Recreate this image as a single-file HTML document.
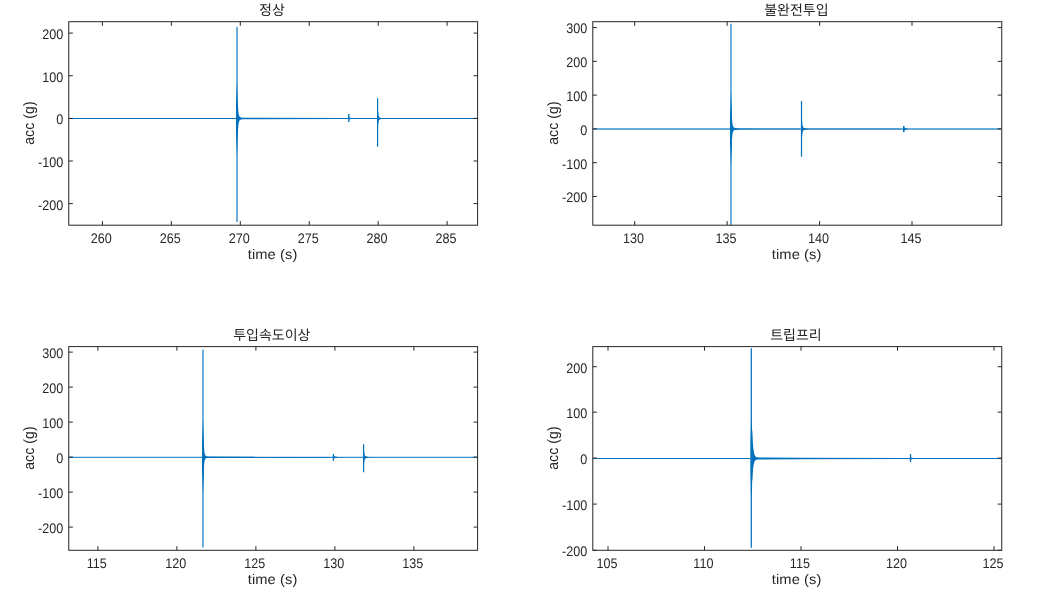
<!DOCTYPE html>
<html><head><meta charset="utf-8"><title>figure</title>
<style>
html,body{margin:0;padding:0;background:#fff;}
body{width:1052px;height:589px;overflow:hidden;font-family:"Liberation Sans",sans-serif;}
svg{display:block;will-change:transform;}
text{font-family:"Liberation Sans",sans-serif;fill:#262626;text-rendering:geometricPrecision;}
.t{font-size:13.33px;letter-spacing:0px;}
.l{font-size:14.67px;letter-spacing:0.1px;}
.k{font-family:"Liberation Sans","Noto Sans CJK KR",sans-serif;font-size:14px;}
</style></head><body>
<svg width="1052" height="589" viewBox="0 0 1052 589">
<rect width="1052" height="589" fill="#fff"/>
<clipPath id="cp1"><rect x="68.75" y="21.7" width="408.85" height="203.5"/></clipPath>
<g clip-path="url(#cp1)" fill="#0072BD"><rect x="68.75" y="118" width="408.85" height="1"/><polygon points="237.5,117.82 345,117.95 345,119.05 237.5,119.18"/><polygon points="236.43,26.8 236.43,80.5 236,105.5 236,131.5 236.43,156.5 236.43,222.1 237.57,222.1 237.57,156.5 238,131.5 238,105.5 237.57,80.5 237.57,26.8"/><polygon points="237,105.6 238,105.6 238.1,107.58 238.2,109.21 238.3,110.54 238.4,111.64 238.5,112.55 238.6,113.29 238.7,113.92 238.8,114.43 238.9,114.86 239,115.23 239.1,115.53 239.2,115.79 239.3,116.01 239.4,116.2 239.5,116.36 239.6,116.51 239.7,116.63 239.8,116.74 239.9,116.84 240,116.93 240.1,117 240.2,117.08 240.3,117.14 240.4,117.2 240.5,117.26 240.6,117.31 240.7,117.36 240.8,117.4 240.9,117.45 241,117.49 241.5,117.66 242,117.8 242.5,117.92 243,118.01 243.5,118.09 244,118.16 244.5,118.22 244.5,118.78 244,118.84 243.5,118.91 243,118.99 242.5,119.08 242,119.2 241.5,119.34 241,119.51 240.9,119.55 240.8,119.6 240.7,119.64 240.6,119.69 240.5,119.74 240.4,119.8 240.3,119.86 240.2,119.92 240.1,120 240,120.07 239.9,120.16 239.8,120.26 239.7,120.37 239.6,120.49 239.5,120.64 239.4,120.8 239.3,120.99 239.2,121.21 239.1,121.47 239,121.77 238.9,122.14 238.8,122.57 238.7,123.08 238.6,123.71 238.5,124.45 238.4,125.36 238.3,126.46 238.2,127.79 238.1,129.42 238,131.4 237,131.4"/><polygon points="348.1,113.9 348.1,122.1 349.5,122.1 349.5,113.9"/><polygon points="348.8,117.3 349.5,117.3 349.6,117.35 349.7,117.4 349.8,117.45 349.9,117.5 350,117.54 350.1,117.59 350.2,117.63 350.3,117.67 350.4,117.7 350.5,117.74 350.6,117.77 350.7,117.8 350.8,117.84 350.9,117.86 351,117.89 351.1,117.92 351.2,117.95 351.3,117.97 351.4,117.99 351.5,118.02 351.6,118.04 351.7,118.06 351.8,118.08 351.9,118.1 352,118.11 352.1,118.13 352.2,118.15 352.3,118.16 352.4,118.18 352.5,118.19 353,118.26 353,118.69 352.5,118.74 352.4,118.75 352.3,118.76 352.2,118.78 352.1,118.79 352,118.8 351.9,118.82 351.8,118.83 351.7,118.85 351.6,118.86 351.5,118.88 351.4,118.9 351.3,118.91 351.2,118.93 351.1,118.95 351,118.97 350.9,119 350.8,119.02 350.7,119.04 350.6,119.07 350.5,119.1 350.4,119.12 350.3,119.15 350.2,119.18 350.1,119.21 350,119.25 349.9,119.28 349.8,119.32 349.7,119.36 349.6,119.4 349.5,119.44 348.8,119.44"/><polygon points="377,98.3 377,105.5 377,131.5 377,146.8 378.2,146.8 378.2,131.5 378.2,105.5 378.2,98.3"/><polygon points="377.6,111.8 378.2,111.8 378.3,112.97 378.4,113.89 378.5,114.62 378.6,115.2 378.7,115.66 378.8,116.03 378.9,116.33 379,116.57 379.1,116.77 379.2,116.93 379.3,117.07 379.4,117.18 379.5,117.28 379.6,117.36 379.7,117.43 379.8,117.49 379.9,117.54 380,117.59 380.1,117.64 380.2,117.68 380.3,117.72 380.4,117.75 380.5,117.78 380.6,117.81 380.7,117.84 380.8,117.87 380.9,117.89 381,117.92 381.1,117.94 381.2,117.96 381.7,118.06 382.2,118.13 382.7,118.2 383.2,118.25 383.2,118.75 382.7,118.8 382.2,118.87 381.7,118.94 381.2,119.04 381.1,119.06 381,119.08 380.9,119.11 380.8,119.13 380.7,119.16 380.6,119.19 380.5,119.22 380.4,119.25 380.3,119.28 380.2,119.32 380.1,119.36 380,119.41 379.9,119.46 379.8,119.51 379.7,119.57 379.6,119.64 379.5,119.72 379.4,119.82 379.3,119.93 379.2,120.07 379.1,120.23 379,120.43 378.9,120.67 378.8,120.97 378.7,121.34 378.6,121.8 378.5,122.38 378.4,123.11 378.3,124.03 378.2,125.2 377.6,125.2"/></g>
<rect x="68.75" y="21.7" width="408.85" height="203.5" fill="none" stroke="#262626" stroke-width="1"/>
<path d="M102.4 225.2V221.1M102.4 21.7V25.8M171.35 225.2V221.1M171.35 21.7V25.8M240.3 225.2V221.1M240.3 21.7V25.8M309.25 225.2V221.1M309.25 21.7V25.8M378.2 225.2V221.1M378.2 21.7V25.8M447.1 225.2V221.1M447.1 21.7V25.8M68.75 33.1H72.85M477.6 33.1H473.5M68.75 75.75H72.85M477.6 75.75H473.5M68.75 118.4H72.85M477.6 118.4H473.5M68.75 161H72.85M477.6 161H473.5M68.75 203.6H72.85M477.6 203.6H473.5" stroke="#262626" stroke-width="1" fill="none"/>
<g fill="#262626">
<text class="t" transform="translate(101.3 243.1) scale(0.945 1.05)" text-anchor="middle">260</text>
<text class="t" transform="translate(170.3 243.1) scale(0.945 1.05)" text-anchor="middle">265</text>
<text class="t" transform="translate(239.2 243.1) scale(0.945 1.05)" text-anchor="middle">270</text>
<text class="t" transform="translate(308.2 243.1) scale(0.945 1.05)" text-anchor="middle">275</text>
<text class="t" transform="translate(377.1 243.1) scale(0.945 1.05)" text-anchor="middle">280</text>
<text class="t" transform="translate(446 243.1) scale(0.945 1.05)" text-anchor="middle">285</text>
<text class="t" transform="translate(63.2 39) scale(0.945 1.05)" text-anchor="end">200</text>
<text class="t" transform="translate(63.2 81.65) scale(0.945 1.05)" text-anchor="end">100</text>
<text class="t" transform="translate(63.2 124.3) scale(0.945 1.05)" text-anchor="end">0</text>
<text class="t" transform="translate(63.2 166.9) scale(0.945 1.05)" text-anchor="end">-100</text>
<text class="t" transform="translate(63.2 209.5) scale(0.945 1.05)" text-anchor="end">-200</text>
</g>
<text class="l" transform="translate(272.57 258.6) scale(1.0 0.95)" text-anchor="middle">time (s)</text>
<text class="l" transform="translate(33.6 123.05) rotate(-90) scale(0.955 1.02)" text-anchor="middle">acc (g)</text>
<text class="k" x="272" y="14.8" text-anchor="middle">정상</text>
<clipPath id="cp2"><rect x="592.8" y="21.7" width="408.95" height="203.5"/></clipPath>
<g clip-path="url(#cp2)" fill="#0072BD"><rect x="592.8" y="128.42" width="408.95" height="1.16"/><polygon points="731.5,128.6 800,128.7 800,129.3 731.5,129.4"/><polygon points="802,128.7 900,128.8 900,129.2 802,129.3"/><polygon points="730.44,23.8 730.44,91 730,116 730,142 730.44,167 730.44,230 731.56,230 731.56,167 732,142 732,116 731.56,91 731.56,23.8"/><polygon points="731,117.3 732,117.3 732.1,119.09 732.2,120.55 732.3,121.76 732.4,122.75 732.5,123.57 732.6,124.24 732.7,124.8 732.8,125.27 732.9,125.66 733,125.99 733.1,126.27 733.2,126.5 733.3,126.7 733.4,126.88 733.5,127.02 733.6,127.15 733.7,127.27 733.8,127.37 733.9,127.46 734,127.54 734.1,127.61 734.2,127.68 734.3,127.74 734.4,127.79 734.5,127.85 734.6,127.89 734.7,127.94 734.8,127.98 734.9,128.02 735,128.06 735.5,128.22 736,128.35 736.5,128.46 737,128.55 737.5,128.62 738,128.68 738.5,128.74 738.5,129.25 738,129.3 737.5,129.36 737,129.43 736.5,129.52 736,129.62 735.5,129.75 735,129.9 734.9,129.94 734.8,129.98 734.7,130.02 734.6,130.06 734.5,130.11 734.4,130.16 734.3,130.21 734.2,130.27 734.1,130.33 734,130.4 733.9,130.48 733.8,130.57 733.7,130.66 733.6,130.77 733.5,130.9 733.4,131.04 733.3,131.21 733.2,131.4 733.1,131.62 733,131.89 732.9,132.2 732.8,132.58 732.7,133.03 732.6,133.57 732.5,134.22 732.4,135 732.3,135.95 732.2,137.11 732.1,138.52 732,140.23 731,140.23"/><polygon points="800.9,100.9 800.9,116 800.9,142 800.9,156.8 802.1,156.8 802.1,142 802.1,116 802.1,100.9"/><polygon points="801.5,121.1 802.1,121.1 802.2,122.36 802.3,123.38 802.4,124.21 802.5,124.89 802.6,125.44 802.7,125.88 802.8,126.25 802.9,126.56 803,126.81 803.1,127.02 803.2,127.2 803.3,127.35 803.4,127.47 803.5,127.58 803.6,127.67 803.7,127.76 803.8,127.83 803.9,127.89 804,127.95 804.1,128 804.2,128.05 804.3,128.09 804.4,128.13 804.5,128.16 804.6,128.2 804.7,128.23 804.8,128.26 804.9,128.29 805,128.32 805.1,128.34 805.6,128.45 806.1,128.54 806.6,128.62 807.1,128.68 807.6,128.73 807.6,129.26 807.1,129.32 806.6,129.38 806.1,129.45 805.6,129.54 805.1,129.65 805,129.68 804.9,129.7 804.8,129.73 804.7,129.76 804.6,129.79 804.5,129.83 804.4,129.86 804.3,129.9 804.2,129.94 804.1,129.99 804,130.04 803.9,130.1 803.8,130.16 803.7,130.23 803.6,130.31 803.5,130.4 803.4,130.51 803.3,130.64 803.2,130.78 803.1,130.96 803,131.17 802.9,131.42 802.8,131.72 802.7,132.08 802.6,132.53 802.5,133.07 802.4,133.74 802.3,134.56 802.2,135.57 802.1,136.82 801.5,136.82"/><polygon points="903,126 903,131.9 904.6,131.9 904.6,126"/><polygon points="903.8,127.8 904.6,127.8 904.7,127.85 904.8,127.9 904.9,127.95 905,128 905.1,128.04 905.2,128.09 905.3,128.13 905.4,128.17 905.5,128.2 905.6,128.24 905.7,128.27 905.8,128.3 905.9,128.34 906,128.36 906.1,128.39 906.2,128.42 906.3,128.45 906.4,128.47 906.5,128.49 906.6,128.52 906.7,128.54 906.8,128.56 906.9,128.58 907,128.6 907.1,128.61 907.2,128.63 907.3,128.65 907.4,128.66 907.5,128.68 907.6,128.69 908.1,128.76 908.1,129.24 907.6,129.3 907.5,129.31 907.4,129.32 907.3,129.34 907.2,129.36 907.1,129.37 907,129.39 906.9,129.41 906.8,129.43 906.7,129.45 906.6,129.47 906.5,129.49 906.4,129.51 906.3,129.54 906.2,129.56 906.1,129.59 906,129.61 905.9,129.64 905.8,129.67 905.7,129.7 905.6,129.74 905.5,129.77 905.4,129.81 905.3,129.84 905.2,129.88 905.1,129.92 905,129.97 904.9,130.01 904.8,130.06 904.7,130.11 904.6,130.16 903.8,130.16"/></g>
<rect x="592.8" y="21.7" width="408.95" height="203.5" fill="none" stroke="#262626" stroke-width="1"/>
<path d="M634.7 225.2V221.1M634.7 21.7V25.8M727.15 225.2V221.1M727.15 21.7V25.8M819.6 225.2V221.1M819.6 21.7V25.8M912 225.2V221.1M912 21.7V25.8M592.8 27.6H596.9M1001.75 27.6H997.65M592.8 61.35H596.9M1001.75 61.35H997.65M592.8 95.1H596.9M1001.75 95.1H997.65M592.8 128.9H596.9M1001.75 128.9H997.65M592.8 162.7H596.9M1001.75 162.7H997.65M592.8 196.45H596.9M1001.75 196.45H997.65" stroke="#262626" stroke-width="1" fill="none"/>
<g fill="#262626">
<text class="t" transform="translate(633.6 243.1) scale(0.945 1.05)" text-anchor="middle">130</text>
<text class="t" transform="translate(726.1 243.1) scale(0.945 1.05)" text-anchor="middle">135</text>
<text class="t" transform="translate(818.5 243.1) scale(0.945 1.05)" text-anchor="middle">140</text>
<text class="t" transform="translate(910.9 243.1) scale(0.945 1.05)" text-anchor="middle">145</text>
<text class="t" transform="translate(587.2 32.8) scale(0.945 1.05)" text-anchor="end">300</text>
<text class="t" transform="translate(587.2 67.25) scale(0.945 1.05)" text-anchor="end">200</text>
<text class="t" transform="translate(587.2 101) scale(0.945 1.05)" text-anchor="end">100</text>
<text class="t" transform="translate(587.2 134.8) scale(0.945 1.05)" text-anchor="end">0</text>
<text class="t" transform="translate(587.2 168.6) scale(0.945 1.05)" text-anchor="end">-100</text>
<text class="t" transform="translate(587.2 202.35) scale(0.945 1.05)" text-anchor="end">-200</text>
</g>
<text class="l" transform="translate(796.67 258.6) scale(1.0 0.95)" text-anchor="middle">time (s)</text>
<text class="l" transform="translate(557.65 123.05) rotate(-90) scale(0.955 1.02)" text-anchor="middle">acc (g)</text>
<text class="k" x="796.4" y="14.8" text-anchor="middle">불완전투입</text>
<clipPath id="cp3"><rect x="68.75" y="346.6" width="408.85" height="203.7"/></clipPath>
<g clip-path="url(#cp3)" fill="#0072BD"><rect x="68.75" y="456.8" width="408.85" height="1"/><polygon points="203.5,456.62 330,456.75 330,457.85 203.5,457.98"/><polygon points="202.43,349.5 202.43,419.3 202,444.3 202,470.3 202.43,495.3 202.43,547.6 203.57,547.6 203.57,495.3 204,470.3 204,444.3 203.57,419.3 203.57,349.5"/><polygon points="203,445.8 204,445.8 204.1,447.59 204.2,449.06 204.3,450.27 204.4,451.26 204.5,452.08 204.6,452.75 204.7,453.32 204.8,453.78 204.9,454.18 205,454.5 205.1,454.78 205.2,455.01 205.3,455.21 205.4,455.38 205.5,455.53 205.6,455.66 205.7,455.77 205.8,455.87 205.9,455.96 206,456.04 206.1,456.11 206.2,456.17 206.3,456.23 206.4,456.28 206.5,456.33 206.6,456.38 206.7,456.42 206.8,456.46 206.9,456.49 207,456.53 207.5,456.68 208,456.79 208.5,456.89 209,456.96 209.5,457.02 209.5,457.53 209,457.58 208.5,457.65 208,457.72 207.5,457.82 207,457.95 206.9,457.97 206.8,458.01 206.7,458.04 206.6,458.07 206.5,458.11 206.4,458.15 206.3,458.2 206.2,458.25 206.1,458.3 206,458.36 205.9,458.42 205.8,458.5 205.7,458.58 205.6,458.67 205.5,458.78 205.4,458.9 205.3,459.05 205.2,459.21 205.1,459.41 205,459.64 204.9,459.92 204.8,460.24 204.7,460.64 204.6,461.11 204.5,461.67 204.4,462.36 204.3,463.19 204.2,464.2 204.1,465.43 204,466.93 203,466.93"/><polygon points="332.75,453.9 332.75,460.8 334.05,460.8 334.05,453.9"/><polygon points="333.4,456.1 334.05,456.1 334.15,456.14 334.25,456.18 334.35,456.22 334.45,456.26 334.55,456.3 334.65,456.33 334.75,456.37 334.85,456.4 334.95,456.43 335.05,456.46 335.15,456.49 335.25,456.52 335.35,456.55 335.45,456.57 335.55,456.6 335.65,456.62 335.75,456.65 335.85,456.67 335.95,456.69 336.05,456.71 336.15,456.73 336.25,456.75 336.35,456.77 336.45,456.79 336.55,456.81 336.65,456.83 336.75,456.84 336.85,456.86 336.95,456.87 337.05,456.89 337.55,456.96 338.05,457.01 338.05,457.59 337.55,457.64 337.05,457.71 336.95,457.73 336.85,457.74 336.75,457.76 336.65,457.77 336.55,457.79 336.45,457.81 336.35,457.83 336.25,457.85 336.15,457.87 336.05,457.89 335.95,457.91 335.85,457.93 335.75,457.95 335.65,457.98 335.55,458 335.45,458.03 335.35,458.05 335.25,458.08 335.15,458.11 335.05,458.14 334.95,458.17 334.85,458.2 334.75,458.23 334.65,458.27 334.55,458.3 334.45,458.34 334.35,458.38 334.25,458.42 334.15,458.46 334.05,458.5 333.4,458.5"/><polygon points="363,444.3 363,470.3 363,472.2 364.2,472.2 364.2,470.3 364.2,444.3"/><polygon points="363.6,451.6 364.2,451.6 364.3,452.54 364.4,453.29 364.5,453.88 364.6,454.35 364.7,454.73 364.8,455.04 364.9,455.28 365,455.48 365.1,455.65 365.2,455.78 365.3,455.9 365.4,455.99 365.5,456.08 365.6,456.15 365.7,456.21 365.8,456.27 365.9,456.32 366,456.36 366.1,456.4 366.2,456.44 366.3,456.48 366.4,456.51 366.5,456.54 366.6,456.57 366.7,456.6 366.8,456.62 366.9,456.65 367,456.67 367.1,456.69 367.2,456.72 367.7,456.81 368.2,456.89 368.7,456.96 369.2,457.01 369.2,457.59 368.7,457.64 368.2,457.71 367.7,457.79 367.2,457.88 367.1,457.91 367,457.93 366.9,457.95 366.8,457.98 366.7,458 366.6,458.03 366.5,458.06 366.4,458.09 366.3,458.12 366.2,458.16 366.1,458.2 366,458.24 365.9,458.28 365.8,458.33 365.7,458.39 365.6,458.45 365.5,458.52 365.4,458.61 365.3,458.7 365.2,458.82 365.1,458.95 365,459.12 364.9,459.32 364.8,459.56 364.7,459.87 364.6,460.25 364.5,460.72 364.4,461.31 364.3,462.06 364.2,463 363.6,463"/></g>
<rect x="68.75" y="346.6" width="408.85" height="203.7" fill="none" stroke="#262626" stroke-width="1"/>
<path d="M97.9 550.3V546.2M97.9 346.6V350.7M176.9 550.3V546.2M176.9 346.6V350.7M255.9 550.3V546.2M255.9 346.6V350.7M334.9 550.3V546.2M334.9 346.6V350.7M413.9 550.3V546.2M413.9 346.6V350.7M68.75 352.1H72.85M477.6 352.1H473.5M68.75 387.1H72.85M477.6 387.1H473.5M68.75 422.1H72.85M477.6 422.1H473.5M68.75 457.1H72.85M477.6 457.1H473.5M68.75 492.1H72.85M477.6 492.1H473.5M68.75 527.1H72.85M477.6 527.1H473.5" stroke="#262626" stroke-width="1" fill="none"/>
<g fill="#262626">
<text class="t" transform="translate(96.8 568.2) scale(0.945 1.05)" text-anchor="middle">115</text>
<text class="t" transform="translate(175.8 568.2) scale(0.945 1.05)" text-anchor="middle">120</text>
<text class="t" transform="translate(254.8 568.2) scale(0.945 1.05)" text-anchor="middle">125</text>
<text class="t" transform="translate(333.8 568.2) scale(0.945 1.05)" text-anchor="middle">130</text>
<text class="t" transform="translate(412.8 568.2) scale(0.945 1.05)" text-anchor="middle">135</text>
<text class="t" transform="translate(63.2 358) scale(0.945 1.05)" text-anchor="end">300</text>
<text class="t" transform="translate(63.2 393) scale(0.945 1.05)" text-anchor="end">200</text>
<text class="t" transform="translate(63.2 428) scale(0.945 1.05)" text-anchor="end">100</text>
<text class="t" transform="translate(63.2 463) scale(0.945 1.05)" text-anchor="end">0</text>
<text class="t" transform="translate(63.2 498) scale(0.945 1.05)" text-anchor="end">-100</text>
<text class="t" transform="translate(63.2 533) scale(0.945 1.05)" text-anchor="end">-200</text>
</g>
<text class="l" transform="translate(272.57 583.7) scale(1.0 0.95)" text-anchor="middle">time (s)</text>
<text class="l" transform="translate(33.6 448.05) rotate(-90) scale(0.955 1.02)" text-anchor="middle">acc (g)</text>
<text class="k" x="271.8" y="339.8" text-anchor="middle">투입속도이상</text>
<clipPath id="cp4"><rect x="592.8" y="346.6" width="408.95" height="203.7"/></clipPath>
<g clip-path="url(#cp4)" fill="#0072BD"><rect x="592.8" y="458" width="408.95" height="1"/><polygon points="752,457.55 800,457.78 800,459.22 752,459.45"/><polygon points="800,457.78 908,457.9 908,459.1 800,459.22"/><polygon points="750.67,348.25 750.67,420.5 750.3,445.5 750.3,471.5 750.67,496.5 750.67,547.85 751.93,547.85 751.93,496.5 752.3,471.5 752.3,445.5 751.93,420.5 751.93,348.25"/><polygon points="751.3,430.9 752.3,430.9 752.4,433.4 752.5,435.66 752.6,437.71 752.7,439.56 752.8,441.24 752.9,442.76 753,444.14 753.1,445.39 753.2,446.52 753.3,447.55 753.4,448.48 753.5,449.32 753.6,450.09 753.7,450.78 753.8,451.41 753.9,451.98 754,452.5 754.1,452.97 754.2,453.39 754.3,453.78 754.4,454.13 754.5,454.45 754.6,454.74 754.7,455.01 754.8,455.25 754.9,455.47 755,455.66 755.1,455.85 755.2,456.01 755.3,456.16 755.8,456.74 756.3,457.12 756.8,457.37 757.3,457.54 757.8,457.66 758.3,457.76 758.8,457.83 759.3,457.89 759.8,457.94 760.3,457.98 760.8,458.02 761.3,458.05 761.8,458.09 762.3,458.12 762.8,458.14 763.3,458.17 763.8,458.19 764.3,458.21 764.3,458.73 763.8,458.75 763.3,458.77 762.8,458.79 762.3,458.81 761.8,458.84 761.3,458.86 760.8,458.89 760.3,458.92 759.8,458.96 759.3,459 758.8,459.04 758.3,459.1 757.8,459.18 757.3,459.28 756.8,459.42 756.3,459.62 755.8,459.92 755.3,460.39 755.2,460.52 755.1,460.65 755,460.8 754.9,460.96 754.8,461.14 754.7,461.33 754.6,461.55 754.5,461.78 754.4,462.04 754.3,462.33 754.2,462.64 754.1,462.99 754,463.37 753.9,463.79 753.8,464.25 753.7,464.76 753.6,465.32 753.5,465.94 753.4,466.62 753.3,467.38 753.2,468.21 753.1,469.12 753,470.14 752.9,471.25 752.8,472.49 752.7,473.85 752.6,475.35 752.5,477.01 752.4,478.84 752.3,480.87 751.3,480.87"/><polygon points="909.85,454.1 909.85,462.1 911.15,462.1 911.15,454.1"/><polygon points="910.5,457.3 911.15,457.3 911.25,457.35 911.35,457.39 911.45,457.44 911.55,457.48 911.65,457.52 911.75,457.56 911.85,457.59 911.95,457.63 912.05,457.66 912.15,457.7 912.25,457.73 912.35,457.76 912.45,457.79 912.55,457.81 912.65,457.84 912.75,457.87 912.85,457.89 912.95,457.92 913.05,457.94 913.15,457.96 913.25,457.98 913.35,458 913.45,458.02 913.55,458.04 913.65,458.06 913.75,458.08 913.85,458.09 913.95,458.11 914.05,458.12 914.15,458.14 914.65,458.2 914.65,458.74 914.15,458.8 914.05,458.81 913.95,458.82 913.85,458.83 913.75,458.85 913.65,458.86 913.55,458.88 913.45,458.89 913.35,458.91 913.25,458.92 913.15,458.94 913.05,458.96 912.95,458.98 912.85,459 912.75,459.02 912.65,459.04 912.55,459.06 912.45,459.08 912.35,459.11 912.25,459.13 912.15,459.16 912.05,459.18 911.95,459.21 911.85,459.24 911.75,459.27 911.65,459.3 911.55,459.34 911.45,459.37 911.35,459.41 911.25,459.44 911.15,459.48 910.5,459.48"/></g>
<rect x="592.8" y="346.6" width="408.95" height="203.7" fill="none" stroke="#262626" stroke-width="1"/>
<path d="M608 550.3V546.2M608 346.6V350.7M704.5 550.3V546.2M704.5 346.6V350.7M801 550.3V546.2M801 346.6V350.7M897.5 550.3V546.2M897.5 346.6V350.7M994 550.3V546.2M994 346.6V350.7M592.8 366.7H596.9M1001.75 366.7H997.65M592.8 412.15H596.9M1001.75 412.15H997.65M592.8 458.1H596.9M1001.75 458.1H997.65M592.8 504.1H596.9M1001.75 504.1H997.65M592.8 550.3H596.9M1001.75 550.3H997.65" stroke="#262626" stroke-width="1" fill="none"/>
<g fill="#262626">
<text class="t" transform="translate(606.9 568.2) scale(0.945 1.05)" text-anchor="middle">105</text>
<text class="t" transform="translate(703.4 568.2) scale(0.945 1.05)" text-anchor="middle">110</text>
<text class="t" transform="translate(799.9 568.2) scale(0.945 1.05)" text-anchor="middle">115</text>
<text class="t" transform="translate(896.4 568.2) scale(0.945 1.05)" text-anchor="middle">120</text>
<text class="t" transform="translate(992.9 568.2) scale(0.945 1.05)" text-anchor="middle">125</text>
<text class="t" transform="translate(587.2 372.6) scale(0.945 1.05)" text-anchor="end">200</text>
<text class="t" transform="translate(587.2 418.05) scale(0.945 1.05)" text-anchor="end">100</text>
<text class="t" transform="translate(587.2 464) scale(0.945 1.05)" text-anchor="end">0</text>
<text class="t" transform="translate(587.2 510) scale(0.945 1.05)" text-anchor="end">-100</text>
<text class="t" transform="translate(587.2 556.2) scale(0.945 1.05)" text-anchor="end">-200</text>
</g>
<text class="l" transform="translate(796.67 583.7) scale(1.0 0.95)" text-anchor="middle">time (s)</text>
<text class="l" transform="translate(557.65 448.05) rotate(-90) scale(0.955 1.02)" text-anchor="middle">acc (g)</text>
<text class="k" x="795.9" y="339.8" text-anchor="middle">트립프리</text>
</svg>
</body></html>
